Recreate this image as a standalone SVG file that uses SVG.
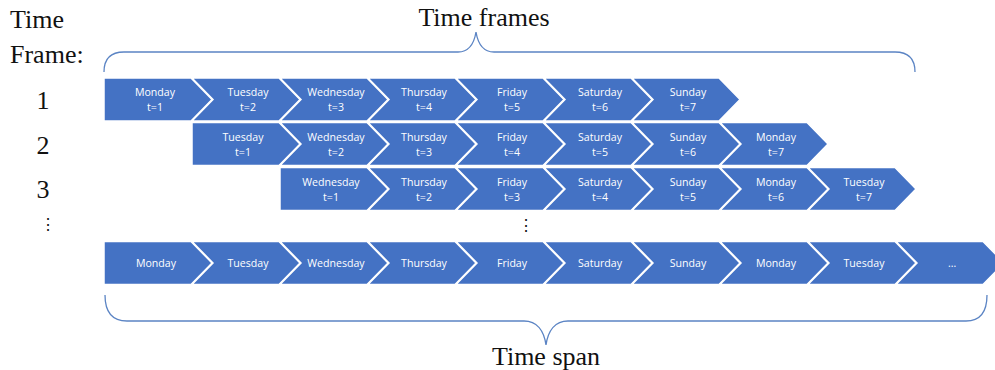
<svg xmlns="http://www.w3.org/2000/svg" width="995" height="370" viewBox="0 0 995 370">
<style>
.sh{fill:#4472C4;stroke:#ffffff;stroke-width:1.5;stroke-linejoin:miter}
.t{font-family:"Open Sans","Noto Sans",sans-serif;font-size:10.6px;fill:#ffffff;text-anchor:middle}
.lb{font-family:"Liberation Serif","Times New Roman",serif;font-size:26px;fill:#111111}
.brace{fill:none;stroke:#5B84C4;stroke-width:1.3}
</style>
<defs>
<path id="hp" d="M0,0 L87,0 L108,21.5 L87,43 L0,43 Z"/>
<path id="ch" d="M0,0 L87,0 L108,21.5 L87,43 L0,43 L21,21.5 Z"/>
</defs>
<rect width="995" height="370" fill="#ffffff"/>
<g id="labels">
<text class="lb" x="10" y="28">Time</text>
<text class="lb" x="10" y="63">Frame:</text>
<text class="lb" x="43" y="109" text-anchor="middle">1</text>
<text class="lb" x="43" y="154" text-anchor="middle">2</text>
<text class="lb" x="43" y="198" text-anchor="middle">3</text>
<text class="lb" x="48" y="230" text-anchor="middle" style="font-family:'DejaVu Serif',serif;font-size:16px">⋮</text>
<text class="lb" x="526" y="231" text-anchor="middle" style="font-family:'DejaVu Serif',serif;font-size:16px">⋮</text>
<text class="lb" x="484" y="26" text-anchor="middle">Time frames</text>
<text class="lb" x="546" y="365" text-anchor="middle">Time span</text>
</g>
<g id="connectors">
<path class="brace" d="M104,72 C104,60 110,52 124,52 L458,52 C469,52 474,44 476,32 C478,44 483,52 494,52 L895,52 C909,52 915,60 915,72"/>
<path class="brace" d="M105,295 C105,312 112,321 127,321 L524,321 C537,321 544,331 546,345 C548,331 555,321 568,321 L966,321 C980,321 987,312 987,295"/>
</g>
<g id="row1" transform="translate(0,78)">
<use href="#hp" class="sh" x="104"/><text class="t" x="155" y="18">Monday</text><text class="t" x="155" y="33">t=1</text>
<use href="#ch" class="sh" x="192"/><text class="t" x="248" y="18">Tuesday</text><text class="t" x="248" y="33">t=2</text>
<use href="#ch" class="sh" x="280"/><text class="t" x="336" y="18">Wednesday</text><text class="t" x="336" y="33">t=3</text>
<use href="#ch" class="sh" x="368"/><text class="t" x="424" y="18">Thursday</text><text class="t" x="424" y="33">t=4</text>
<use href="#ch" class="sh" x="456"/><text class="t" x="512" y="18">Friday</text><text class="t" x="512" y="33">t=5</text>
<use href="#ch" class="sh" x="544"/><text class="t" x="600" y="18">Saturday</text><text class="t" x="600" y="33">t=6</text>
<use href="#ch" class="sh" x="632"/><text class="t" x="688" y="18">Sunday</text><text class="t" x="688" y="33">t=7</text>
</g>
<g id="row2" transform="translate(0,122.5)">
<use href="#hp" class="sh" x="192"/><text class="t" x="243" y="18">Tuesday</text><text class="t" x="243" y="33">t=1</text>
<use href="#ch" class="sh" x="280"/><text class="t" x="336" y="18">Wednesday</text><text class="t" x="336" y="33">t=2</text>
<use href="#ch" class="sh" x="368"/><text class="t" x="424" y="18">Thursday</text><text class="t" x="424" y="33">t=3</text>
<use href="#ch" class="sh" x="456"/><text class="t" x="512" y="18">Friday</text><text class="t" x="512" y="33">t=4</text>
<use href="#ch" class="sh" x="544"/><text class="t" x="600" y="18">Saturday</text><text class="t" x="600" y="33">t=5</text>
<use href="#ch" class="sh" x="632"/><text class="t" x="688" y="18">Sunday</text><text class="t" x="688" y="33">t=6</text>
<use href="#ch" class="sh" x="720"/><text class="t" x="776" y="18">Monday</text><text class="t" x="776" y="33">t=7</text>
</g>
<g id="row3" transform="translate(0,167.5)">
<use href="#hp" class="sh" x="280"/><text class="t" x="331" y="18">Wednesday</text><text class="t" x="331" y="33">t=1</text>
<use href="#ch" class="sh" x="368"/><text class="t" x="424" y="18">Thursday</text><text class="t" x="424" y="33">t=2</text>
<use href="#ch" class="sh" x="456"/><text class="t" x="512" y="18">Friday</text><text class="t" x="512" y="33">t=3</text>
<use href="#ch" class="sh" x="544"/><text class="t" x="600" y="18">Saturday</text><text class="t" x="600" y="33">t=4</text>
<use href="#ch" class="sh" x="632"/><text class="t" x="688" y="18">Sunday</text><text class="t" x="688" y="33">t=5</text>
<use href="#ch" class="sh" x="720"/><text class="t" x="776" y="18">Monday</text><text class="t" x="776" y="33">t=6</text>
<use href="#ch" class="sh" x="808"/><text class="t" x="864" y="18">Tuesday</text><text class="t" x="864" y="33">t=7</text>
</g>
<g id="row4" transform="translate(0,241.5)">
<use href="#hp" class="sh" x="104"/><text class="t" x="156" y="25.5">Monday</text>
<use href="#ch" class="sh" x="192"/><text class="t" x="248" y="25.5">Tuesday</text>
<use href="#ch" class="sh" x="280"/><text class="t" x="336" y="25.5">Wednesday</text>
<use href="#ch" class="sh" x="368"/><text class="t" x="424" y="25.5">Thursday</text>
<use href="#ch" class="sh" x="456"/><text class="t" x="512" y="25.5">Friday</text>
<use href="#ch" class="sh" x="544"/><text class="t" x="600" y="25.5">Saturday</text>
<use href="#ch" class="sh" x="632"/><text class="t" x="688" y="25.5">Sunday</text>
<use href="#ch" class="sh" x="720"/><text class="t" x="776" y="25.5">Monday</text>
<use href="#ch" class="sh" x="808"/><text class="t" x="864" y="25.5">Tuesday</text>
<use href="#ch" class="sh" x="896"/><text class="t" x="952" y="25.5">…</text>
</g>
</svg>
